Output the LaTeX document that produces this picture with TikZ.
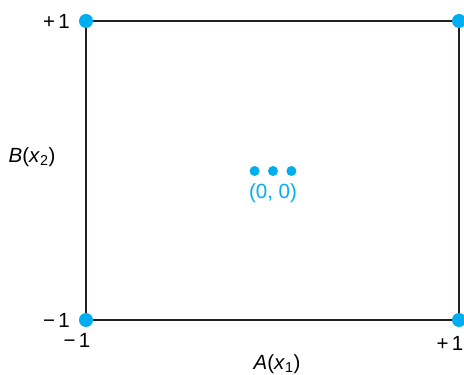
\documentclass[tikz,border=0pt]{standalone}
\usepackage{fontspec}
\setmainfont{Liberation Sans}
\usetikzlibrary{positioning}
\definecolor{dotblue}{HTML}{00AEEF}
\definecolor{edgegray}{HTML}{231F20}
\tikzset{
  cornerdot/.style={circle, fill=dotblue, inner sep=0pt, minimum size=14pt},
  centerdot/.style={circle, fill=dotblue, inner sep=0pt, minimum size=10pt},
  lbl/.style={inner sep=0pt, font=\fontsize{20.5}{22}\selectfont},
}
\begin{document}
\begin{tikzpicture}[x=1pt,y=1pt]
\useasboundingbox (0,0) rectangle (464,375);
% square corners
\coordinate (ll) at (86,55);
\coordinate (lr) at (459,55);
\coordinate (ul) at (86,354);
\coordinate (ur) at (459,354);
\draw[edgegray, line width=2pt] (ll) -- (lr) -- (ur) -- (ul) -- cycle;
\node[cornerdot] (dll) at (ll) {};
\node[cornerdot] (dlr) at (lr) {};
\node[cornerdot] (dul) at (ul) {};
\node[cornerdot] (dur) at (ur) {};
% center point
\node[centerdot] (c0) at (273,204) {};
\node[centerdot, left=8pt of c0] (cl) {};
\node[centerdot, right=8pt of c0] (cr) {};
\node[lbl, text=dotblue, below=7pt of c0] (origin) {(0, 0)};
% axis labels
\node[lbl, anchor=east] (btop) at (70,354) {+\,1};
\node[lbl, anchor=east] (bbot) at (70,55) {−\,1};
\node[lbl] (aleft) at (77,35) {−\,1};
\node[lbl] (aright) at (450,32) {+\,1};
\node[lbl] (aname) at (277,11) {\textit{A}(\textit{x}\textsubscript{1})};
\node[lbl] (bname) at (32,218) {\textit{B}(\textit{x}\textsubscript{2})};
\end{tikzpicture}
\end{document}
